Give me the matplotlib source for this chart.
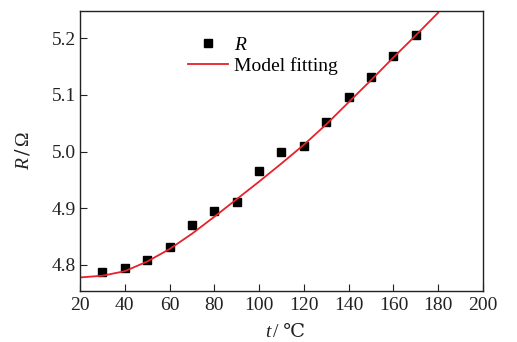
import matplotlib
matplotlib.use('Agg')
import matplotlib.pyplot as plt

# === DADOS ===
t_medido = [30, 40, 50, 60, 70, 80, 90, 100, 110, 120, 130, 140, 150, 160, 170]
r_medido = [4.787, 4.794, 4.808, 4.831, 4.870, 4.895, 4.911, 4.966, 5.000, 5.009,
            5.052, 5.096, 5.131, 5.168, 5.205]

t_ajuste = [20, 30, 40, 50, 60, 70, 80, 90, 100, 110, 120, 130, 140, 150, 160, 170, 180]
r_ajuste = [4.778, 4.781, 4.789, 4.806, 4.828, 4.855, 4.885, 4.916, 4.947, 4.979,
            5.012, 5.048, 5.087, 5.126, 5.166, 5.205, 5.245]

x_ticks = [20, 40, 60, 80, 100, 120, 140, 160, 180, 200]
y_ticks = [4.8, 4.9, 5.0, 5.1, 5.2]

# === ESTILO ===
FONTES = ['Liberation Serif', 'DejaVu Serif', 'DejaVu Sans', 'Noto Sans CJK SC']
plt.rcParams['font.family'] = FONTES
plt.rcParams['mathtext.fontset'] = 'custom'
plt.rcParams['mathtext.rm'] = 'DejaVu Serif'
plt.rcParams['mathtext.it'] = 'Liberation Serif:italic'
plt.rcParams['font.size'] = 14
COR_TEXTO = '#222222'

fig = plt.figure(figsize=(5.17, 3.42), dpi=100)
ax = fig.add_axes([0.1547, 0.149, 0.7795, 0.819])

ax.plot(t_medido, r_medido, 's', color='black', ms=5.5, label='$R$')
ax.plot(t_ajuste, r_ajuste, '-', color='#e8202a', lw=1.3, label='Model fitting')

ax.set_xlim(20, 200)
ax.set_ylim(4.754, 5.248)
ax.set_xticks(x_ticks)
ax.set_yticks(y_ticks)
ax.set_yticklabels([f'{v:.1f}' for v in y_ticks])
ax.tick_params(direction='in', length=5, width=0.8, colors=COR_TEXTO,
               labelsize=14)
ax.tick_params(axis='x', pad=4)
ax.tick_params(axis='y', pad=3)

for s in ax.spines.values():
    s.set_linewidth(1.0)
    s.set_color(COR_TEXTO)

# rótulo do eixo x em duas partes: "t" itálico + "/ ℃" (fallback de fonte)
fig.text(0.524, 0.002, 't', fontsize=14, style='italic', color=COR_TEXTO,
         ha='right', va='bottom', family='Liberation Serif')
fig.text(0.528, 0.002, '/ ℃', fontsize=14, color=COR_TEXTO,
         ha='left', va='bottom', family=FONTES)

ax.set_ylabel('$R\\,/\\,$Ω', fontsize=14, color=COR_TEXTO, labelpad=14)

ax.legend(loc='upper left', bbox_to_anchor=(0.267, 0.91), frameon=False,
          handlelength=2.1, handletextpad=0.3, labelspacing=0.15,
          borderpad=0, borderaxespad=0, fontsize=14)

fig.savefig('out.png', dpi=100)
